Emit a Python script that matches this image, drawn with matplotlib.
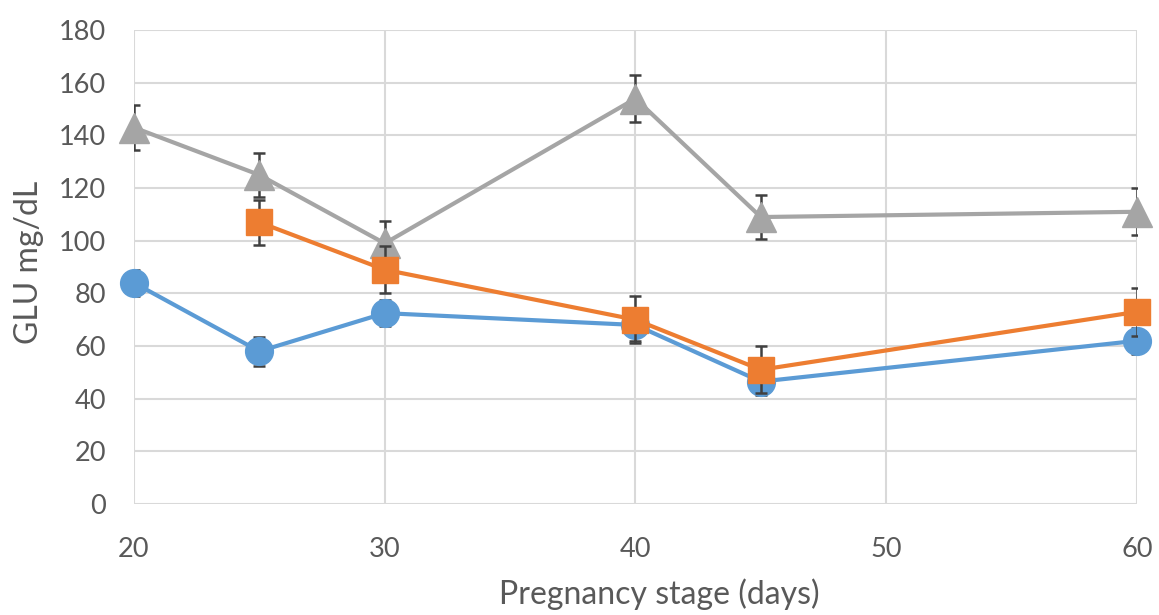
import matplotlib
matplotlib.use("Agg")
import matplotlib.pyplot as plt

x_blue = [20, 25, 30, 40, 45, 60]
y_blue = [84, 58, 72.5, 68, 46.5, 62]
e_blue = [5, 5.5, 5, 6, 5, 5]

x_orange = [25, 30, 40, 45, 60]
y_orange = [107, 89, 70, 51, 73]
e_orange = [8.5, 9, 9, 9, 9]

x_gray = [20, 25, 30, 40, 45, 60]
y_gray = [143, 125, 99, 154, 109, 111]
e_gray = [8.5, 8.5, 8.5, 9, 8.5, 9]

plt.rcParams['font.family'] = ['Lato', 'DejaVu Sans']
fig = plt.figure(figsize=(11.59, 6.15), dpi=100)
ax = fig.add_axes([0.1156, 0.1805, 0.8654, 0.7705])

ecol = '#404040'
kw = dict(lw=3, ecolor=ecol, elinewidth=1.8, capsize=4.5, capthick=1.8)
c1 = ax.errorbar(x_gray, y_gray, yerr=e_gray, color='#A5A5A5', marker='^', ms=21, zorder=3, **kw)
c2 = ax.errorbar(x_orange, y_orange, yerr=e_orange, color='#ED7D31', marker='s', ms=19, zorder=4, **kw)
c3 = ax.errorbar(x_blue, y_blue, yerr=e_blue, color='#5B9BD5', marker='o', ms=20, zorder=2, **kw)
for c in (c1, c2, c3):
    c[0].set_clip_on(False)

ax.set_xlim(20, 60)
ax.set_ylim(0, 180)
ax.set_xticks([20, 30, 40, 50, 60])
ax.set_yticks(range(0, 181, 20))
ax.grid(True, color='#D9D9D9', lw=1.5)
ax.set_axisbelow(True)
for s in ax.spines.values():
    s.set_visible(False)
ax.tick_params(length=0, labelsize=19.5, labelcolor='#595959')
ax.tick_params(axis='y', pad=20)
ax.tick_params(axis='x', pad=24)
ax.set_xlabel('Pregnancy stage (days)', fontsize=23, color='#595959')
ax.xaxis.set_label_coords(0.524, -0.158, transform=ax.transAxes)
ax.set_ylabel('GLU mg/dL', fontsize=23, color='#595959')
ax.yaxis.set_label_coords(-0.09, 0.51, transform=ax.transAxes)

fig.savefig('out.png', dpi=100)
